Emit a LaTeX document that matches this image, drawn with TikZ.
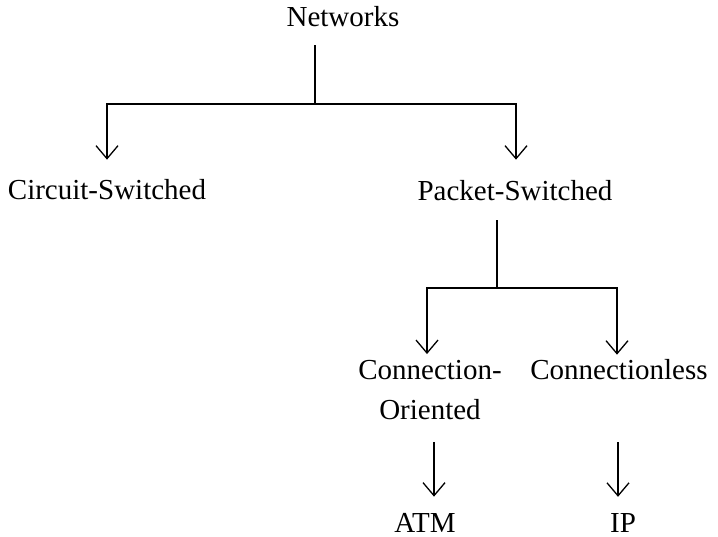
\documentclass[tikz,border=0pt]{standalone}
\usepackage{fontspec}
\setmainfont{Liberation Serif}
\usetikzlibrary{arrows.meta}
\begin{document}
\begin{tikzpicture}[x=1pt,y=-1pt,
  label/.style={inner sep=0pt,anchor=base,font=\fontsize{29}{40}\selectfont},
  link/.style={line width=1.3pt},
  arr/.style={link,-{Straight Barb[length=13pt,width=22pt,line width=1.3pt]}}]
\useasboundingbox (0,0) rectangle (718,537);

% labels
\node[label] (net) at (343,27) {Networks};
\node[label] (cs)  at (107,200) {Circuit-Switched};
\node[label] (ps)  at (515,201) {Packet-Switched};
\node[label,anchor=center,align=center] (co) at (430,390) {Connection-\\Oriented};
\node[label] (cl)  at (619,380) {Connectionless};
\node[label] (atm) at (425,532) {ATM};
\node[label] (ip)  at (623,532) {IP};

% branch points
\coordinate (j1) at (315,104);
\coordinate (j2) at (497,288);

% Networks -> Circuit-Switched / Packet-Switched
\draw[link,shorten <=18pt] (net.south -| j1) -- (j1);
\draw[arr,shorten >=20pt] (j1) -| (cs.north);
\draw[arr,shorten >=21pt] (j1) -| ([xshift=1pt]ps.north);

% Packet-Switched -> Connection-Oriented / Connectionless
\draw[link,shorten <=19pt] (ps.south -| j2) -- (j2);
\draw[arr,shorten >=6pt] (j2) -| ([xshift=-3pt]co.north);
\draw[arr,shorten >=5pt] (j2) -| ([xshift=-2pt]cl.north);

% Leaves
\draw[arr,shorten <=22pt,shorten >=16pt] ([xshift=4pt]co.south) -- ([xshift=4pt]co.south |- atm.north);
\draw[arr,shorten <=62pt,shorten >=16pt] ([xshift=-1pt]cl.south) -- ([xshift=-1pt]cl.south |- ip.north);
\end{tikzpicture}
\end{document}
